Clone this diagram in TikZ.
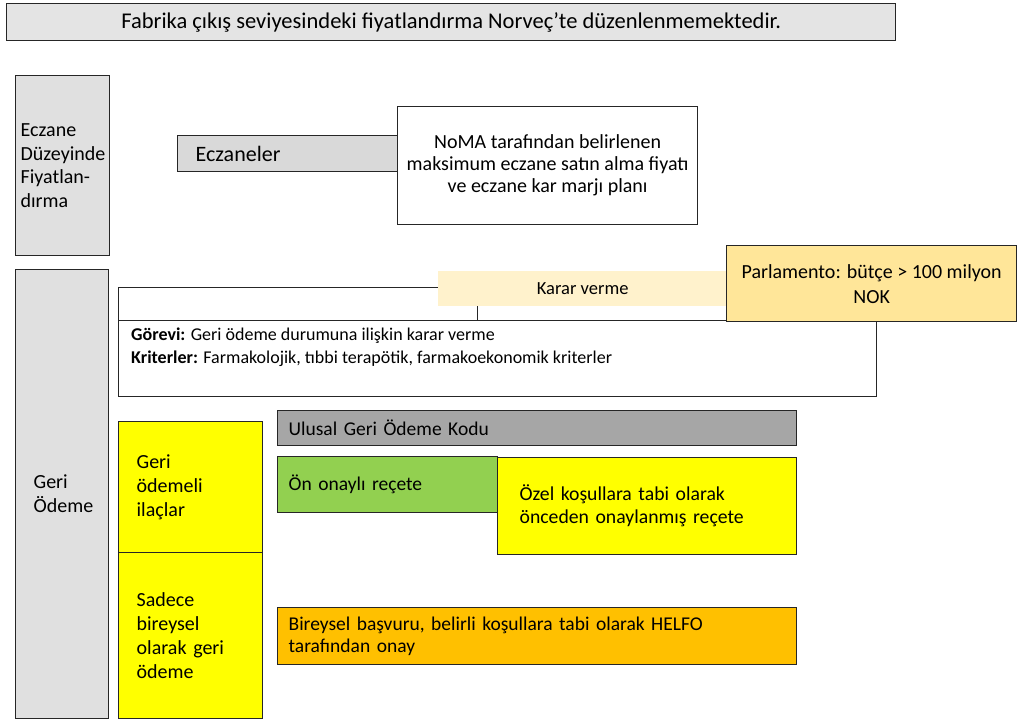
\documentclass[tikz,border=0pt]{standalone}
\usepackage{fontspec}
\setmainfont{Carlito}
\newcommand\fsz[2]{\fontsize{#1}{#2}\selectfont}
\definecolor{titlegray}{HTML}{E4E4E4}
\definecolor{sidegray}{HTML}{E0E0E0}
\definecolor{pharmgray}{HTML}{D9D9D9}
\definecolor{codegray}{HTML}{A6A6A6}
\definecolor{rxgreen}{HTML}{92D050}
\definecolor{brightyellow}{HTML}{FFFF00}
\definecolor{helfoorange}{HTML}{FFC000}
\definecolor{parlgold}{HTML}{FFE699}
\definecolor{cream}{HTML}{FFF2CC}
\begin{document}
\begin{tikzpicture}[x=1pt,y=-1pt,
  box/.style={draw=black!85, line width=1.3pt, rectangle, inner sep=0pt,
              anchor=north west, font=\fsz{20}{24}},
  size/.style 2 args={minimum width=#1, minimum height=#2},
  lefttext/.style 2 args={inner xsep=#1, text width=#2, align=left},
  centertext/.style={align=center}]
\useasboundingbox (0,0) rectangle (1017,722);

% header
\node[box, fill=titlegray, size={889pt}{37pt}, font=\fsz{22.5}{26}] (title) at (6,3)
  {Fabrika çıkış seviyesindeki fiyatlandırma Norveç'te düzenlenmemektedir.};

% pharmacy level pricing
\node[box, fill=sidegray, size={94pt}{180pt}, lefttext={5pt}{84pt}, font=\fsz{20}{23.5}] (pharmlevel) at (15,75)
  {Eczane\\Düzeyinde\\Fiyatlan-\\dırma};
\node[box, fill=pharmgray, size={221pt}{36pt}, lefttext={18pt}{185pt}, font=\fsz{22}{26}] (pharmacies) at (177,135)
  {Eczaneler};
\node[box, fill=white, size={300pt}{118pt}, centertext, font=\fsz{20}{22}] (noma) at (397,106)
  {NoMA tarafından belirlenen\\maksimum eczane satın alma fiyatı\\ve eczane kar marjı planı};

% reimbursement
\node[box, fill=sidegray, size={93pt}{449pt}, lefttext={18pt}{57pt}] (reimb) at (15,269)
  {Geri\\Ödeme};
\node[box, fill=white, size={359pt}{33pt}] (decisionhead) at (118,287) {};
\node[box, fill=white, size={758pt}{76pt}] (decisionbody) at (118,320) {};
\node[anchor=north west, inner sep=0pt, align=left, font=\fsz{18}{23}] (task) at (131,328)
  {\textbf{Görevi:} Geri ödeme durumuna ilişkin karar verme\\
   \textbf{Kriterler:} Farmakolojik, tıbbi terapötik, farmakoekonomik kriterler};
\node[box, draw=none, fill=cream, size={290pt}{35pt}, font=\fsz{18.5}{22}] (decision) at (437,270)
  {Karar verme};
\node[box, fill=parlgold, size={290pt}{76pt}, centertext, font=\fsz{20}{25}] (parliament) at (726,245)
  {Parlamento: bütçe > 100 milyon\\NOK};

% reimbursable medicines
\node[box, fill=brightyellow, size={144pt}{131pt}, lefttext={18pt}{108pt}] (reimbursable) at (118,421)
  {Geri\\ödemeli\\ilaçlar};
\node[box, fill=brightyellow, size={144pt}{166pt}, lefttext={18pt}{108pt}] (individual) at (118,552)
  {Sadece\\bireysel\\olarak geri\\ödeme};
\node[box, fill=codegray, size={519pt}{35pt}, lefttext={11pt}{497pt}, font=\fsz{19.5}{24}] (code) at (277,410)
  {Ulusal Geri Ödeme Kodu};
\node[box, fill=rxgreen, size={220pt}{56pt}, lefttext={11pt}{198pt}, font=\fsz{19.5}{24}] (preapproved) at (277,456)
  {Ön onaylı reçete};
\node[box, fill=brightyellow, size={299pt}{97pt}, lefttext={22pt}{255pt}, font=\fsz{19.7}{23}] (conditional) at (497,457)
  {Özel koşullara tabi olarak\\önceden onaylanmış reçete};
\node[box, fill=helfoorange, size={519pt}{57pt}, lefttext={11pt}{497pt}, font=\fsz{19.5}{22}] (helfo) at (277,607)
  {Bireysel başvuru, belirli koşullara tabi olarak HELFO\\tarafından onay};
\end{tikzpicture}
\end{document}
